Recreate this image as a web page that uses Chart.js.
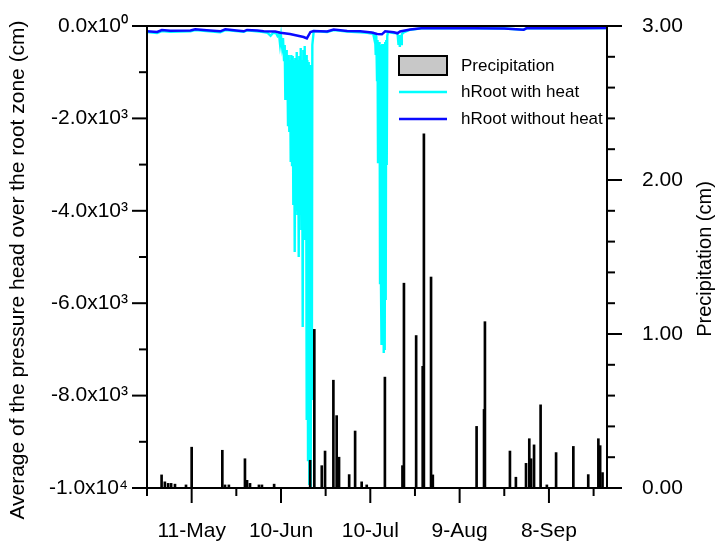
<!DOCTYPE html>
<html><head><meta charset="utf-8">
<script src="https://cdn.jsdelivr.net/npm/chart.js@4"></script>
<style>html,body{margin:0;padding:0;background:#fff;}canvas{display:block;}</style>
</head><body>
<canvas id="c" width="717" height="545"></canvas>
<script>
// x values are days after 26-Apr
const precipDays = [4.9, 6.0, 7.1, 8.1, 9.4, 13.1, 15.0, 25.3, 26.2, 27.5, 32.9, 33.6, 34.6, 37.6, 38.6, 42.7, 54.8, 56.2, 58.7, 59.8, 62.6, 63.7, 64.5, 67.9, 69.9, 72.1, 73.8, 79.9, 85.8, 86.3, 90.4, 92.6, 93.0, 95.4, 96.0, 110.7, 113.2, 113.5, 121.9, 123.9, 127.3, 128.4, 129.0, 130.0, 132.2, 134.3, 137.4, 143.2, 148.2, 151.6, 152.2, 153.0];
const precipCm = [0.085, 0.04, 0.03, 0.03, 0.025, 0.02, 0.265, 0.245, 0.02, 0.02, 0.19, 0.05, 0.03, 0.02, 0.02, 0.025, 0.18, 1.03, 0.145, 0.24, 0.70, 0.47, 0.2, 0.087, 0.37, 0.04, 0.02, 0.72, 0.145, 1.33, 0.99, 0.79, 2.30, 1.37, 0.085, 0.40, 0.51, 1.08, 0.24, 0.07, 0.16, 0.32, 0.19, 0.28, 0.54, 0.02, 0.23, 0.27, 0.087, 0.32, 0.275, 0.10];

const heatDays = [0, 3.4, 5.0, 7.8, 14.6, 16.2, 24.6, 26.3, 32.5, 33.6, 39.2, 40.5, 41.5, 42.3,
 43.33, 43.84, 44.34, 44.68, 45.01, 45.35, 45.68, 46.02, 46.26, 46.46, 46.69, 46.93, 47.13, 47.36, 47.60, 47.80, 48.03, 48.27, 48.47, 48.71, 48.94, 49.14, 49.38, 49.61, 49.81, 50.05, 50.29, 50.49, 50.72, 50.96, 51.16, 51.39, 51.63, 51.83, 52.07, 52.30, 52.50, 52.74, 52.97, 53.17, 53.41, 53.64, 53.84, 54.08, 54.31, 54.51, 54.75, 54.99, 55.19, 55.36, 55.53, 56.00,
 60.5, 62.7, 67.2, 71.6, 74.0, 75.3,
 75.92, 76.42, 76.59, 76.82, 77.02, 77.26, 77.43, 77.59, 77.76, 77.93, 78.10, 78.27, 78.43, 78.60, 78.70, 78.84, 79.01, 79.17, 79.34, 79.51, 79.68, 79.85, 80.01, 80.18, 80.35, 80.52, 80.69, 80.95,
 82.9,
 84.14, 84.48, 84.71, 84.92, 85.12, 85.32, 85.59,
 86.2, 88.4, 92.9, 100, 110, 120, 126.5, 127.6, 140, 154.5];
const heatHead = [-130, -150, -110, -125, -115, -90, -135, -90, -125, -95, -130, -150, -210, -150,
 -152, -217, -173, -390, -217, -433, -260, -736, -411, -1602, -520, -1602, -693, -2143, -628, -2295, -736, -2944, -628, -3009, -650, -3875, -736, -4893, -693, -3984, -563, -4092, -736, -5001, -650, -4027, -476, -4417, -736, -6517, -520, -4308, -433, -4633, -628, -8530, -736, -9396, -779, -9937, -844, -10000, -953, -8097, -411, -108,
 -130, -90, -120, -135, -150, -165,
 -152, -303, -173, -628, -217, -1169, -303, -2944, -346, -2685, -346, -5564, -411, -5716, -520, -6906, -390, -6798, -390, -7080, -390, -7015, -346, -5932, -303, -3009, -217, -130,
 -150,
 -152, -411, -195, -455, -195, -390, -173,
 -140, -80, -45, -52, -52, -55, -82, -47, -50, -47];

const noHeatDays = [0, 3.4, 5.0, 7.8, 14.6, 16.2, 20, 24.6, 26.3, 30, 32.5, 33.6, 37, 39.2, 43.1, 44.8, 48, 52.6, 53.7, 54.9, 56.0, 60.5, 62.7, 67.2, 71.6, 75.5, 77.3, 78.9, 80.0, 82.9, 84.1, 85.0, 88.4, 92.9, 100, 110, 120, 126.5, 127.6, 140, 154.5];
const noHeatHead = [-115, -130, -87, -102, -95, -71, -90, -115, -71, -95, -115, -85, -100, -115, -120, -145, -175, -238, -270, -130, -108, -120, -75, -110, -115, -140, -173, -180, -115, -135, -158, -120, -75, -45, -50, -50, -52, -80, -45, -48, -45];

const xMaxDay = 154.5;
const xTickDays = [15, 45, 75, 105, 135];
const xTickLabels = ['11-May', '10-Jun', '10-Jul', '9-Aug', '8-Sep'];
const xMinorDays = [0, 30, 60, 90, 120, 150];
const yTicks = [0, -2000, -4000, -6000, -8000, -10000];
const yTickLabels = ['0.0x10\u2070', '-2.0x10\u00B3', '-4.0x10\u00B3', '-6.0x10\u00B3', '-8.0x10\u00B3', '-1.0x10\u2074'];
const yMinor = [-1000, -3000, -5000, -7000, -9000];
const y2Ticks = [0, 1, 2, 3];
const y2TickLabels = ['0.00', '1.00', '2.00', '3.00'];
const y2Minor = [0.2, 0.4, 0.6, 0.8, 1.2, 1.4, 1.6, 1.8, 2.2, 2.4, 2.6, 2.8];
const yTitle = 'Average of the pressure head over the root zone (cm)';
const y2Title = 'Precipitation (cm)';
const seriesNames = ['Precipitation', 'hRoot with heat', 'hRoot without heat'];

const FONT = '"Liberation Sans", Arial, sans-serif';
const zip = (xs, ys) => xs.map((x, i) => ({x: x, y: ys[i]}));

const decor = {
  id: 'decor',
  afterDatasetsDraw(chart) {
    const ctx = chart.ctx, a = chart.chartArea, s = chart.scales;
    ctx.save();
    ctx.strokeStyle = '#000';
    ctx.lineWidth = 2;
    ctx.strokeRect(a.left, a.top, a.right - a.left, a.bottom - a.top);
    const seg = (x1, y1, x2, y2) => { ctx.beginPath(); ctx.moveTo(x1, y1); ctx.lineTo(x2, y2); ctx.stroke(); };
    yTicks.forEach(v => { const p = s.y.getPixelForValue(v); seg(a.left - 15, p, a.left, p); });
    yMinor.forEach(v => { const p = s.y.getPixelForValue(v); seg(a.left - 8, p, a.left, p); });
    y2Ticks.forEach(v => { const p = s.y2.getPixelForValue(v); seg(a.right, p, a.right + 15, p); });
    y2Minor.forEach(v => { const p = s.y2.getPixelForValue(v); seg(a.right, p, a.right + 8, p); });
    xTickDays.forEach(v => { const p = s.x.getPixelForValue(v); seg(p, a.bottom, p, a.bottom + 15); });
    xMinorDays.forEach(v => { const p = s.x.getPixelForValue(v); seg(p, a.bottom, p, a.bottom + 8); });

    // legend
    ctx.font = '17px ' + FONT;
    ctx.textAlign = 'left';
    ctx.textBaseline = 'middle';
    ctx.fillStyle = '#c8c8c8';
    ctx.fillRect(399, 56, 48, 19);
    ctx.lineWidth = 2;
    ctx.strokeRect(399, 56, 48, 19);
    ctx.fillStyle = '#000';
    ctx.fillText(seriesNames[0], 461, 66);
    ctx.strokeStyle = '#00ffff'; ctx.lineWidth = 2.5;
    seg(399, 92, 447, 92);
    ctx.fillText(seriesNames[1], 461, 92);
    ctx.strokeStyle = '#0a0aff'; ctx.lineWidth = 2.5;
    seg(399, 119, 447, 119);
    ctx.fillText(seriesNames[2], 461, 119);

    // axis titles
    ctx.fillStyle = '#000';
    ctx.textAlign = 'center';
    ctx.font = '21px ' + FONT;
    ctx.save(); ctx.translate(18, 270); ctx.rotate(-Math.PI / 2); ctx.fillText(yTitle, 0, 0); ctx.restore();
    ctx.font = '20px ' + FONT;
    ctx.save(); ctx.translate(705, 259); ctx.rotate(-Math.PI / 2); ctx.fillText(y2Title, 0, 0); ctx.restore();
    ctx.restore();
  }
};

const hiddenGrid = {display: true, drawOnChartArea: false, drawTicks: false, color: 'rgba(0,0,0,0)'};
const tickFont = {family: FONT, size: 21};
const noPad = (sc) => { sc.paddingTop = 0; sc.paddingBottom = 0; sc.paddingLeft = 0; sc.paddingRight = 0; };

new Chart(document.getElementById('c'), {
  type: 'bar',
  data: {
    datasets: [
      {type: 'bar', label: seriesNames[0], data: zip(precipDays, precipCm), yAxisID: 'y2', xAxisID: 'x',
       backgroundColor: '#000', borderWidth: 0, barThickness: 2, grouped: false, order: 0},
      {type: 'line', label: seriesNames[2], data: zip(noHeatDays, noHeatHead), yAxisID: 'y', xAxisID: 'x',
       borderColor: '#0a0aff', borderWidth: 2.5, pointRadius: 0, tension: 0, fill: false, order: 1},
      {type: 'line', label: seriesNames[1], data: zip(heatDays, heatHead), yAxisID: 'y', xAxisID: 'x',
       borderColor: '#00ffff', borderWidth: 2.4, pointRadius: 0, tension: 0, fill: false, order: 2}
    ]
  },
  options: {
    responsive: false,
    animation: false,
    devicePixelRatio: 1,
    layout: {padding: {top: 26, left: 0, right: 0, bottom: 0}},
    plugins: {legend: {display: false}, tooltip: {enabled: false}, title: {display: false}},
    scales: {
      x: {type: 'linear', position: 'bottom', min: 0, max: xMaxDay, offset: false,
          grid: hiddenGrid, border: {display: false},
          ticks: {font: tickFont, color: '#000', padding: 31, maxRotation: 0, autoSkip: false,
                  callback: (v) => { const i = xTickDays.indexOf(v); return i >= 0 ? xTickLabels[i] : ''; }},
          afterBuildTicks: (sc) => { sc.ticks = xTickDays.map(v => ({value: v})); },
          afterFit: (sc) => { sc.height = 57; noPad(sc); }},
      y: {type: 'linear', position: 'left', min: -10000, max: 0,
          grid: hiddenGrid, border: {display: false},
          ticks: {font: tickFont, color: '#000', padding: 19,
                  callback: (v) => { const i = yTicks.indexOf(v); return i >= 0 ? yTickLabels[i] : ''; }},
          afterBuildTicks: (sc) => { sc.ticks = yTicks.map(v => ({value: v})); },
          afterFit: (sc) => { sc.width = 147; noPad(sc); }},
      y2: {type: 'linear', position: 'right', min: 0, max: 3,
          grid: hiddenGrid, border: {display: false},
          ticks: {font: tickFont, color: '#000', padding: 35,
                  callback: (v) => { const i = y2Ticks.indexOf(v); return i >= 0 ? y2TickLabels[i] : ''; }},
          afterBuildTicks: (sc) => { sc.ticks = y2Ticks.map(v => ({value: v})); },
          afterFit: (sc) => { sc.width = 110; noPad(sc); }}
    }
  },
  plugins: [decor]
});
</script>
</body></html>
